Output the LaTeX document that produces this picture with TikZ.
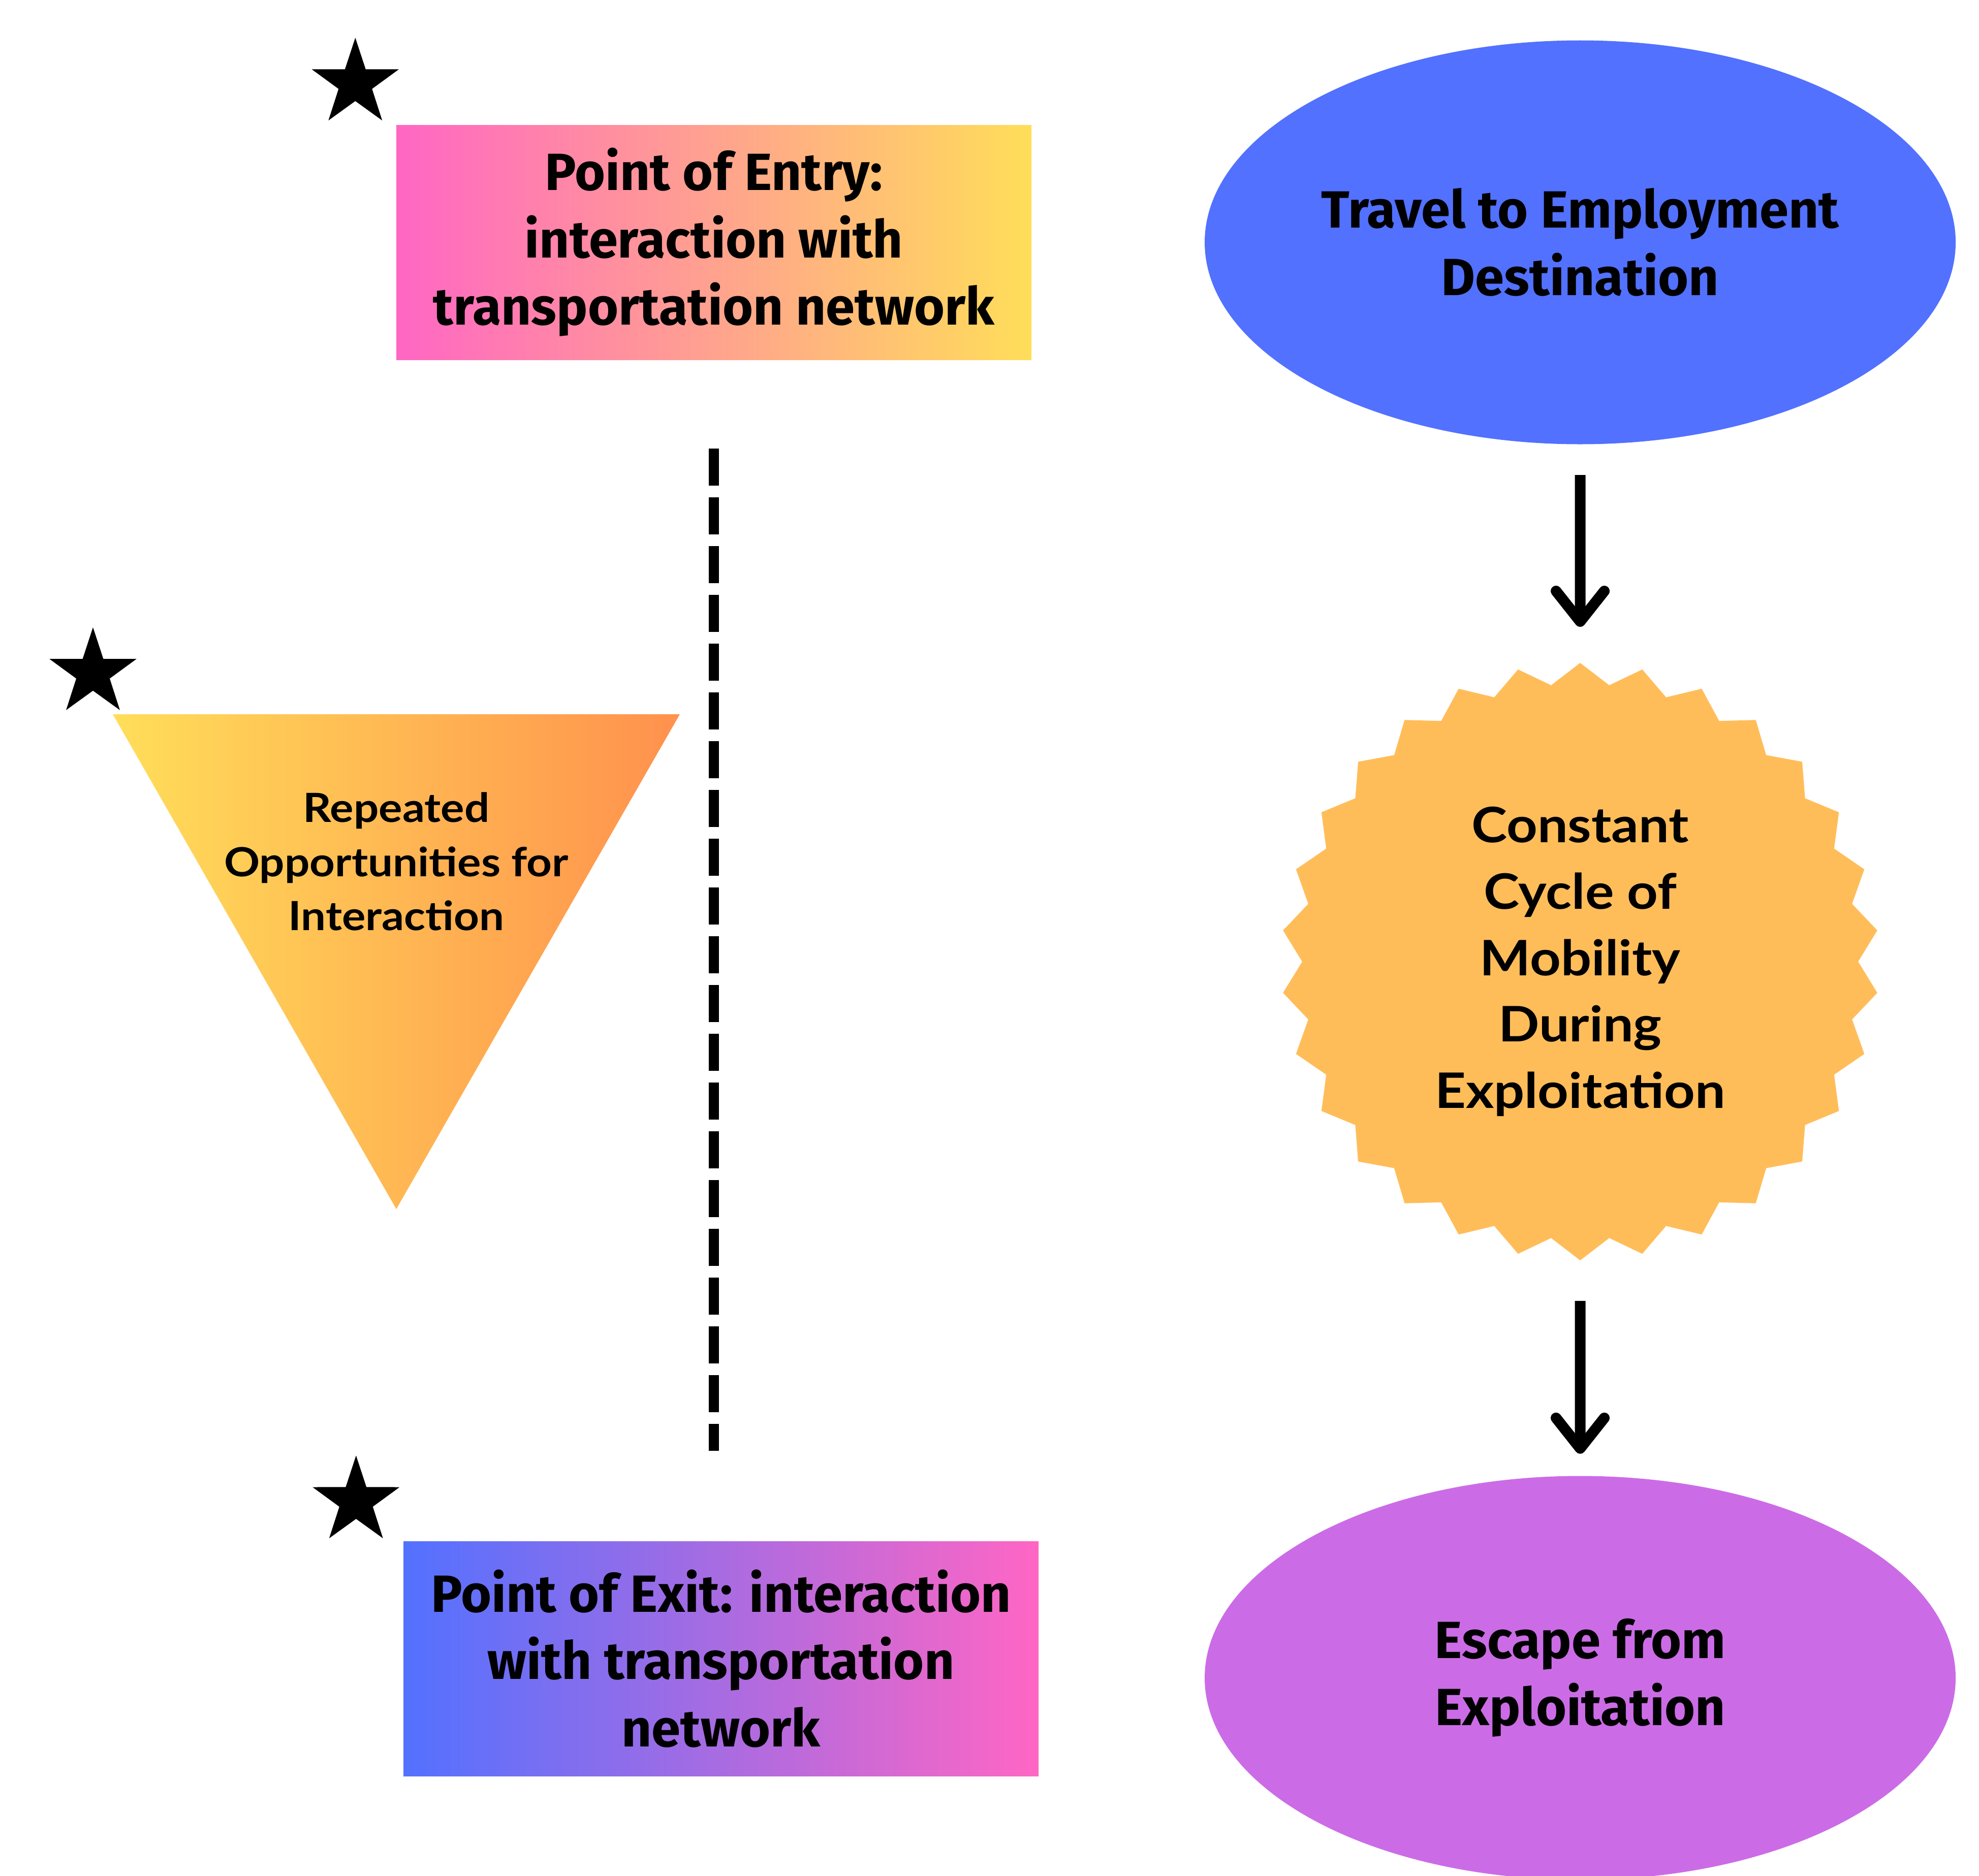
\documentclass[tikz,border=0pt]{standalone}
\usepackage{fontspec}
\setmainfont{Lato}
\newfontfamily\condsans{Fira Sans}
\newfontfamily\widesans[FakeStretch=1.1]{Lato}
\usetikzlibrary{arrows.meta,positioning,shapes.geometric,calc}
\definecolor{hotpink}{HTML}{FF66C4}
\definecolor{sunyellow}{HTML}{FFDE59}
\definecolor{royalblue}{HTML}{5271FF}
\definecolor{tangerine}{HTML}{FF914D}
\definecolor{apricot}{HTML}{FFBD59}
\definecolor{orchid}{HTML}{CB6CE6}
\newcommand{\RectFont}{\condsans\bfseries\fontsize{29.3}{37.7}\selectfont}
\newcommand{\BurstFont}{\widesans\bfseries\fontsize{27.4}{37.2}\selectfont}
\newcommand{\TriFont}{\widesans\bfseries\fontsize{22.5}{30.4}\selectfont}

\begin{document}
\begin{tikzpicture}[
    keybox/.style={rectangle, minimum width=12.5cm, minimum height=4.62cm, inner sep=0pt, align=center, font=\RectFont},
    hub/.style={ellipse, minimum width=14.78cm, minimum height=7.95cm, inner sep=0pt, align=center, font=\RectFont},
    burst/.style={star, star points=30, star point ratio=1.075, minimum size=11.76cm, inner sep=0pt, fill=apricot, align=center, font=\BurstFont},
    flagstar/.style={star, star points=5, star point ratio=2.6, minimum size=1.8cm, inner sep=0pt, fill=black},
    flowarrow/.style={line width=6pt, -{Straight Barb[round,length=0.6cm,width=0.95cm]}},
    timeline/.style={line width=0.2cm, dash pattern=on 0.73cm off 0.23cm}
]
    \useasboundingbox (0,0) rectangle (38.95,-36.92);

    \node (entry) [keybox, left color=hotpink, right color=sunyellow] at (14.05,-4.77) {Point of Entry:\\interaction with\\transportation network};
    \node (exitbox) [keybox, left color=royalblue, right color=hotpink] at (14.19,-32.65) {Point of Exit: interaction\\with transportation\\network};

    \coordinate (tl) at (2.22,-14.06);
    \coordinate (tr) at (13.38,-14.06);
    \coordinate (tip) at (7.8,-23.8);
    \shade[left color=sunyellow, right color=tangerine] (tl) -- (tr) -- (tip) -- cycle;
    \node (repeated) [align=center, font=\TriFont] at (7.8,-16.96) {Repeated\\Opportunities for\\Interaction};

    \node (travel) [hub, fill=royalblue] at (31.1,-4.77) {Travel to Employment\\Destination};
    \node (cycle) [burst] at (31.1,-18.93) {Constant\\Cycle of\\Mobility\\During\\Exploitation};
    \node (escape) [hub, fill=orchid] at (31.1,-33.03) {Escape from\\Exploitation};

    \node (flagA) [flagstar] at ($(entry.north west)+(-0.8,0.81)$) {};
    \node (flagB) [flagstar] at ($(tl)+(-0.39,0.81)$) {};
    \node (flagC) [flagstar] at ($(exitbox.north west)+(-0.925,0.78)$) {};

    \draw[timeline, shorten <=1.74cm, shorten >=1.77cm] (entry.south) -- (entry.south |- exitbox.north);
    \draw[flowarrow, shorten <=0.6cm, shorten >=0.7cm] (travel) -- (cycle);
    \draw[flowarrow, shorten <=0.79cm, shorten >=0.43cm] (cycle) -- (escape);
\end{tikzpicture}
\end{document}
